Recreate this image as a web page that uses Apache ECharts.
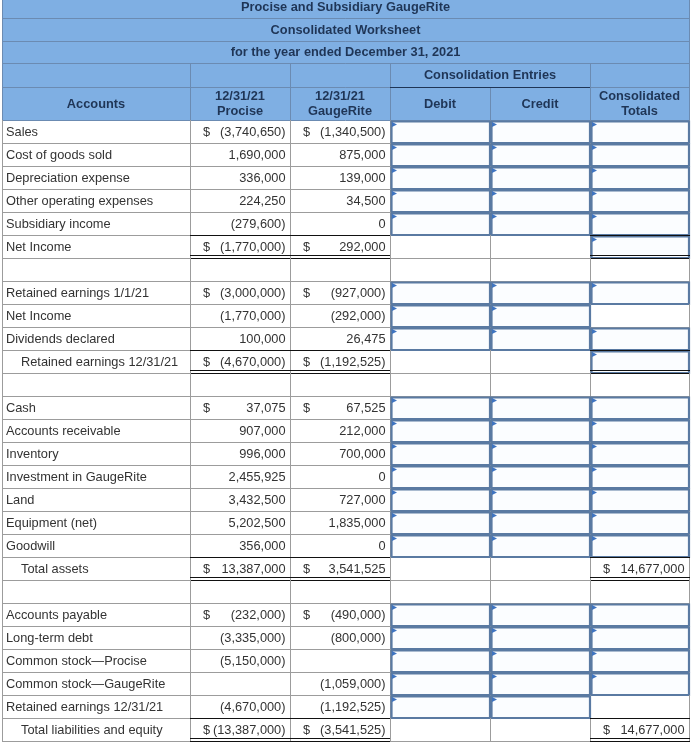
<!DOCTYPE html>
<html>
<head>
<meta charset="utf-8">
<script src="https://cdn.jsdelivr.net/npm/echarts/dist/echarts.min.js"></script>
<style>html,body{margin:0;padding:0;background:#fff}#c{width:696px;height:742px}</style>
</head>
<body>
<div id="c"></div>
<script>
// ---------------- DATA ----------------
const titles = ['Procise and Subsidiary GaugeRite', 'Consolidated Worksheet', 'for the year ended December 31, 2021'];
const groupHeader = 'Consolidation Entries';
const columnHeaders = ['Accounts', '12/31/21\nProcise', '12/31/21\nGaugeRite', 'Debit', 'Credit', 'Consolidated\nTotals'];
const accounts = [
  'Sales', 'Cost of goods sold', 'Depreciation expense', 'Other operating expenses', 'Subsidiary income', 'Net Income',
  '',
  'Retained earnings 1/1/21', 'Net Income', 'Dividends declared', 'Retained earnings 12/31/21',
  '',
  'Cash', 'Accounts receivable', 'Inventory', 'Investment in GaugeRite', 'Land', 'Equipment (net)', 'Goodwill', 'Total assets',
  '',
  'Accounts payable', 'Long-term debt', 'Common stock\u2014Procise', 'Common stock\u2014GaugeRite', 'Retained earnings 12/31/21', 'Total liabilities and equity'
];
const procise = [
  -3740650, 1690000, 336000, 224250, -279600, -1770000,
  null,
  -3000000, -1770000, 100000, -4670000,
  null,
  37075, 907000, 996000, 2455925, 3432500, 5202500, 356000, 13387000,
  null,
  -232000, -3335000, -5150000, null, -4670000, -13387000
];
const gaugeRite = [
  -1340500, 875000, 139000, 34500, 0, 292000,
  null,
  -927000, -292000, 26475, -1192525,
  null,
  67525, 212000, 700000, 0, 727000, 1835000, 0, 3541525,
  null,
  -490000, -800000, null, -1059000, -1192525, -3541525
];
const consolidatedTotals = [
  null, null, null, null, null, null,
  null,
  null, null, null, null,
  null,
  null, null, null, null, null, null, null, 14677000,
  null,
  null, null, null, null, null, 14677000
];
// answer cells: D = Debit, C = Credit, T = Consolidated Totals
const inputCells = [
  'DCT', 'DCT', 'DCT', 'DCT', 'DCT', 'T',
  '',
  'DCT', 'DC', 'DCT', 'T',
  '',
  'DCT', 'DCT', 'DCT', 'DCT', 'DCT', 'DCT', 'DCT', '',
  '',
  'DCT', 'DCT', 'DCT', 'DCT', 'DC', ''
];
const dollarRows = [0, 5, 7, 10, 12, 19, 21, 26];
const totalRows = [5, 10, 19, 26];
const indentedRows = [10, 19, 26];

// ---------------- LAYOUT / STYLE ----------------
const COLS = [2, 190, 290, 390, 490, 590, 689];
const HEAD = [-5, 18, 41, 63, 87, 120];
const BODY_TOP = 120;
const ROW_H = 23;
const FONT = "'Liberation Sans', Arial, sans-serif";
const FS = 12.8;
const HEAD_BG = '#7fafe3';
const HEAD_LINE = '#6b8bb2';
const HEAD_TEXT = '#1f3556';
const GRID = '#9c9c9c';
const BODY_TEXT = '#333333';
const BOX_STROKE = '#5a7aa2';
const BOX_FILL = '#fbfdff';
const MARK = '#3f74c0';

function P(api, x, y) { return api.coord([x, y]); }
function line(api, x1, y1, x2, y2, color, w) {
  const a = P(api, x1, y1), b = P(api, x2, y2);
  return { type: 'line', shape: { x1: a[0], y1: a[1], x2: b[0], y2: b[1] }, style: { stroke: color, lineWidth: w || 1 } };
}
function rect(api, x0, y0, x1, y1, style) {
  const a = P(api, x0, y0), b = P(api, x1, y1);
  return { type: 'rect', shape: { x: a[0], y: a[1], width: b[0] - a[0], height: b[1] - a[1] }, style: style };
}
function text(api, x, y, str, opt) {
  const a = P(api, x, y);
  return { type: 'text', style: Object.assign({
    text: str, x: a[0], y: a[1], fill: BODY_TEXT, fontSize: FS, fontFamily: FONT,
    align: 'left', verticalAlign: 'middle'
  }, opt || {}) };
}
function fmt(v) {
  if (v == null) return '';
  const s = Math.abs(v).toLocaleString('en-US');
  return v < 0 ? '(' + s + ')' : s;
}

function renderHeader(params, api) {
  const ch = [];
  const X0 = COLS[0], X1 = COLS[6];
  ch.push(rect(api, X0, HEAD[0], X1, HEAD[5], { fill: HEAD_BG }));
  for (let i = 1; i <= 5; i++) ch.push(line(api, X0, HEAD[i] + 0.5, X1 + 0.5, HEAD[i] + 0.5, HEAD_LINE));
  ch.push(line(api, X0 + 0.5, HEAD[0], X0 + 0.5, HEAD[5], HEAD_LINE));
  ch.push(line(api, X1 + 0.5, HEAD[0], X1 + 0.5, HEAD[5], HEAD_LINE));
  for (let c = 1; c < 6; c++) {
    const top = (c === 4) ? HEAD[4] : HEAD[3];
    ch.push(line(api, COLS[c] + 0.5, top, COLS[c] + 0.5, HEAD[5], HEAD_LINE));
  }
  ch.push(line(api, COLS[3], HEAD[4] + 0.5, COLS[5], HEAD[4] + 0.5, HEAD_TEXT, 1.2));
  for (let i = 0; i < 3; i++) {
    ch.push(text(api, (X0 + X1) / 2, (HEAD[i] + HEAD[i + 1]) / 2 + 0.5, titles[i],
      { align: 'center', fill: HEAD_TEXT, fontWeight: 'bold' }));
  }
  ch.push(text(api, (COLS[3] + COLS[5]) / 2, (HEAD[3] + HEAD[4]) / 2 + 0.5, groupHeader,
    { align: 'center', fill: HEAD_TEXT, fontWeight: 'bold' }));
  for (let c = 0; c < 6; c++) {
    ch.push(text(api, (COLS[c] + COLS[c + 1]) / 2, (HEAD[4] + HEAD[5]) / 2 + 0.5, columnHeaders[c],
      { align: 'center', fill: HEAD_TEXT, fontWeight: 'bold', lineHeight: 15 }));
  }
  return { type: 'group', children: ch };
}

function renderRow(params, api) {
  const r = api.value(0);
  const y0 = BODY_TOP + r * ROW_H, y1 = y0 + ROW_H;
  const ch = [];
  for (let c = 0; c < COLS.length; c++) ch.push(line(api, COLS[c] + 0.5, y0, COLS[c] + 0.5, y1 + 1, GRID));
  ch.push(line(api, COLS[0], y1 + 0.5, COLS[6] + 1, y1 + 0.5, GRID));
  const flags = inputCells[r];
  [['D', 3], ['C', 4], ['T', 5]].forEach(function (fc) {
    if (flags.indexOf(fc[0]) >= 0) {
      const x0 = COLS[fc[1]], x1 = COLS[fc[1] + 1];
      ch.push(rect(api, x0 + 1.5, y0 + 1.5, x1, y1, { fill: BOX_FILL, stroke: BOX_STROKE, lineWidth: 2.2 }));
      const a = P(api, x0 + 2, y0 + 2), b = P(api, x0 + 7, y0 + 4.5), c = P(api, x0 + 2, y0 + 7);
      ch.push({ type: 'polygon', shape: { points: [a, b, c] }, style: { fill: MARK } });
    }
  });
  if (totalRows.indexOf(r) >= 0) {
    [[COLS[1], COLS[3]], [COLS[5], COLS[6] + 1]].forEach(function (seg) {
      ch.push(line(api, seg[0], y0 + 0.5, seg[1], y0 + 0.5, '#111111'));
      ch.push(line(api, seg[0], y1 - 2.5, seg[1], y1 - 2.5, '#111111'));
      ch.push(line(api, seg[0], y1 + 0.5, seg[1], y1 + 0.5, '#111111'));
    });
  }
  const yc = y0 + ROW_H / 2 + 0.5;
  if (accounts[r]) {
    ch.push(text(api, indentedRows.indexOf(r) >= 0 ? 21 : 6, yc, accounts[r]));
  }
  const hasDollar = dollarRows.indexOf(r) >= 0;
  [[procise[r], 1], [gaugeRite[r], 2], [consolidatedTotals[r], 5]].forEach(function (vc) {
    if (vc[0] == null) return;
    const c = vc[1];
    ch.push(text(api, COLS[c + 1] - 4.5, yc, fmt(vc[0]), { align: 'right' }));
    if (hasDollar) ch.push(text(api, COLS[c] + 13, yc, '$'));
  });
  return { type: 'group', children: ch };
}

const chart = echarts.init(document.getElementById('c'), null, { renderer: 'canvas' });
chart.setOption({
  animation: false,
  backgroundColor: '#ffffff',
  grid: { left: 0, right: 0, top: 0, bottom: 0 },
  xAxis: { type: 'value', min: 0, max: 696, show: false },
  yAxis: { type: 'value', min: 0, max: 742, inverse: true, show: false },
  series: [
    { type: 'custom', silent: true, clip: false, data: [[0, 0]], renderItem: renderHeader },
    { type: 'custom', silent: true, clip: false, data: accounts.map(function (a, i) { return [i, i]; }), renderItem: renderRow }
  ]
});
</script>
</body>
</html>
